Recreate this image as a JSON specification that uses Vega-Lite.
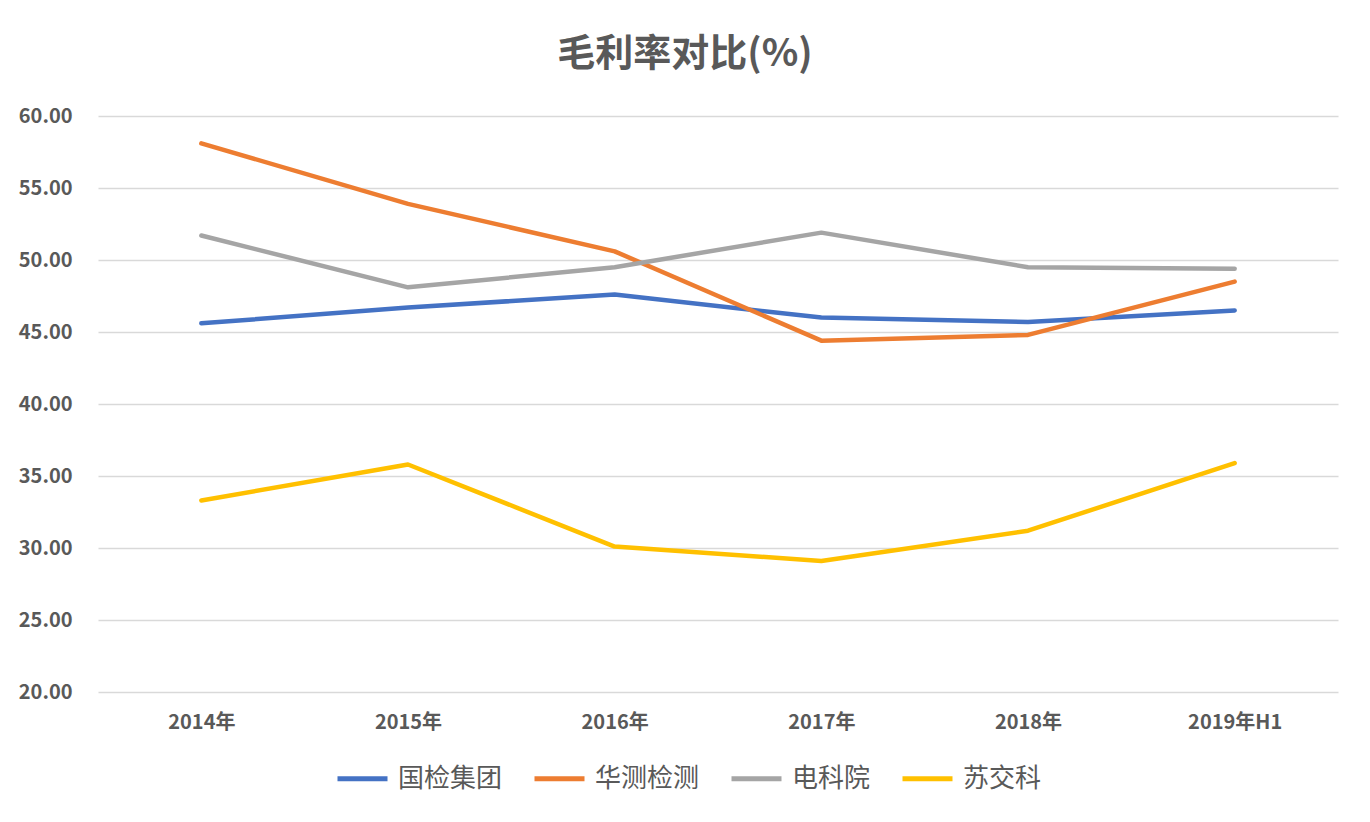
{
  "$schema": "https://vega.github.io/schema/vega-lite/v6.json",
  "autosize": {"type": "none"},
  "width": 1240,
  "height": 576,
  "padding": {"left": 98, "top": 116, "right": 32, "bottom": 130},
  "background": "white",
  "title": {
    "text": "毛利率对比(%)",
    "anchor": "middle",
    "frame": "group",
    "dx": -33,
    "offset": 32,
    "fontSize": 38,
    "fontWeight": "bold",
    "color": "#595959",
    "font": "Noto Sans CJK SC"
  },
  "data": {
    "values": [
      {"year": "2014年", "company": "国检集团", "value": 45.6},
      {"year": "2015年", "company": "国检集团", "value": 46.7},
      {"year": "2016年", "company": "国检集团", "value": 47.6},
      {"year": "2017年", "company": "国检集团", "value": 46.0},
      {"year": "2018年", "company": "国检集团", "value": 45.7},
      {"year": "2019年H1", "company": "国检集团", "value": 46.5},
      {"year": "2014年", "company": "华测检测", "value": 58.1},
      {"year": "2015年", "company": "华测检测", "value": 53.9},
      {"year": "2016年", "company": "华测检测", "value": 50.6},
      {"year": "2017年", "company": "华测检测", "value": 44.4},
      {"year": "2018年", "company": "华测检测", "value": 44.8},
      {"year": "2019年H1", "company": "华测检测", "value": 48.5},
      {"year": "2014年", "company": "电科院", "value": 51.7},
      {"year": "2015年", "company": "电科院", "value": 48.1},
      {"year": "2016年", "company": "电科院", "value": 49.5},
      {"year": "2017年", "company": "电科院", "value": 51.9},
      {"year": "2018年", "company": "电科院", "value": 49.5},
      {"year": "2019年H1", "company": "电科院", "value": 49.4},
      {"year": "2014年", "company": "苏交科", "value": 33.3},
      {"year": "2015年", "company": "苏交科", "value": 35.8},
      {"year": "2016年", "company": "苏交科", "value": 30.1},
      {"year": "2017年", "company": "苏交科", "value": 29.1},
      {"year": "2018年", "company": "苏交科", "value": 31.2},
      {"year": "2019年H1", "company": "苏交科", "value": 35.9}
    ]
  },
  "mark": {"type": "line", "strokeWidth": 4.5, "strokeCap": "round", "strokeJoin": "round"},
  "encoding": {
    "x": {
      "field": "year",
      "type": "ordinal",
      "sort": null,
      "scale": {"type": "point", "padding": 0.5},
      "axis": {
        "title": null,
        "labelAngle": 0,
        "domain": false,
        "ticks": false,
        "grid": false,
        "labelPadding": 20,
        "labelFontSize": 20,
        "labelFontWeight": "bold",
        "labelColor": "#595959",
        "labelFont": "Noto Sans CJK SC"
      }
    },
    "y": {
      "field": "value",
      "type": "quantitative",
      "scale": {"domain": [20, 60], "nice": false, "zero": false},
      "axis": {
        "title": null,
        "values": [20, 25, 30, 35, 40, 45, 50, 55, 60],
        "format": ".2f",
        "domain": false,
        "ticks": false,
        "grid": true,
        "gridColor": "#D9D9D9",
        "gridWidth": 1.5,
        "labelPadding": 26,
        "labelFontSize": 20,
        "labelFontWeight": "bold",
        "labelColor": "#595959",
        "labelFont": "Noto Sans CJK SC"
      }
    },
    "color": {
      "field": "company",
      "type": "nominal",
      "scale": {
        "domain": ["国检集团", "华测检测", "电科院", "苏交科"],
        "range": ["#4472C4", "#ED7D31", "#A5A5A5", "#FFC000"]
      },
      "legend": {
        "title": null,
        "orient": "none",
        "direction": "horizontal",
        "legendX": 237,
        "legendY": 635,
        "symbolType": "stroke",
        "symbolSize": 2500,
        "symbolStrokeWidth": 5,
        "labelFontSize": 26,
        "labelColor": "#595959",
        "labelFont": "Noto Sans CJK SC",
        "labelOffset": 8,
        "columnPadding": 21
      }
    }
  },
  "config": {
    "view": {"stroke": null}
  }
}
